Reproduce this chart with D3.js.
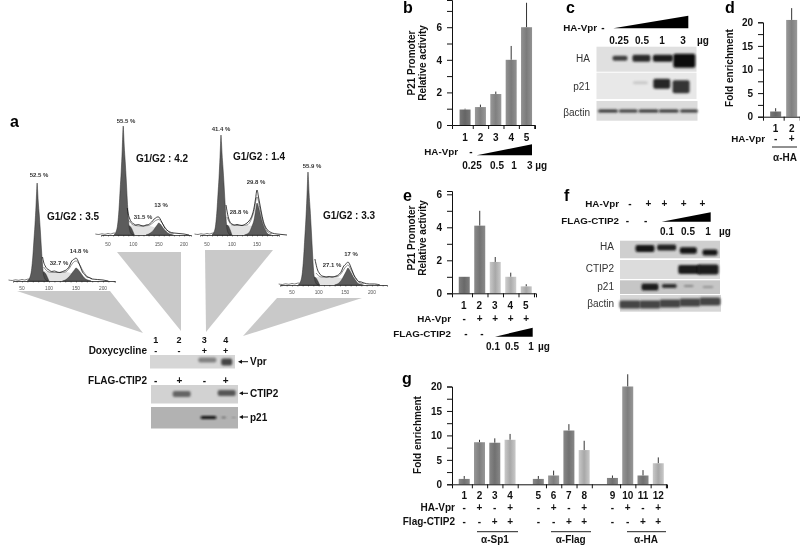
<!DOCTYPE html>
<html><head><meta charset="utf-8">
<script src="https://cdn.jsdelivr.net/npm/d3@7"></script>
<style>
html,body{margin:0;padding:0;background:#fff}
svg{display:block;font-family:"Liberation Sans",Arial,sans-serif;filter:blur(0.4px)}
</style></head><body><svg id="c" width="800" height="545"></svg>
<script>
// ---------- DATA ----------
const barLabelsFive = ["1","2","3","4","5"];
const bValues = [0.95,1.1,1.9,4,6];
const bErrTop = [1,1.25,2.05,4.85,7.5];
const dValues = [1.1,20.5];
const dErrTop = [1.8,23];
const eValues = [1,4.1,1.9,1,0.42];
const eErrTop = [1,5,2.2,1.25,0.55];
const gValues = [1.1,8.6,8.5,9.1,1.1,1.8,11,7,1.3,20,1.8,4.3];
const gErrTop = [1.7,9.1,9.4,10.3,1.7,2.8,12.3,8.9,1.8,22.5,2.9,5.5];
const gHaVpr = ["-","+","-","+","-","+","-","+","-","+","-","+"];
const gFlag = ["-","-","+","+","-","-","+","+","-","-","+","+"];
const eHaVpr = ["-","+","+","+","+"];
const fHaVpr = ["-","+","+","+","+"];
const aDox = ["-","-","+","+"];
const aFlag = ["-","+","-","+"];
const aPanelPercents = [["52.5 %","32.7 %","14.8 %"],["55.5 %","31.5 %","13 %"],["41.4 %","28.8 %","29.8 %"],["55.9 %","27.1 %","17 %"]];
const aPanelRatios = ["G1/G2 : 3.5","G1/G2 : 4.2","G1/G2 : 1.4","G1/G2 : 3.3"];
const g1Channels = [60,66,70,72,74,76,77,78,79,80,82,84,86,88,90,94,98];
const g1P1 = [0,6,24,40,56,76,88,98,90,80,66,50,32,16,6,1,0];
const g1P2 = [0,7,28,46,63,85,99,109,100,89,73,55,35,18,7,1,0];
const g1P3 = [0,6,25,41,57,78,90,100,92,82,67,51,33,17,6,1,0];
const g1P4 = [0,7,29,47,65,88,102,113,104,92,76,57,37,18,7,1,0];
const tailChannels = [66,78,90,100];
const tailP1 = [0,4,9,0];
const tailP2 = [0,5,9,0];
const tailP3 = [0,5,10,0];
const tailP4 = [0,4,8,0];
const sChannels = [84,90,100,115,130,140,150,158,166,175];
const sP1 = [9,10,9,8.5,9,8,6,4,2,0];
const sP2 = [10,10,9.5,9,9,8,6,4,2,0];
const sP3 = [10,10,9.5,9.5,9.5,9,7,4,2,0];
const sP4 = [8,8,8,8,8,7,6,4,2,0];
const g2Channels = [125,130,135,140,144,147,150,153,156,160,164,168,172,178];
const g2P1 = [0,1,3,6,9,11,13,12,10,7,4,2,1,0];
const g2P2 = [0,1,2.5,5,8,10,12,11,9,6,4,2,1,0];
const g2P3 = [0,1,3,9,15,24,32,28,22,14,8,4,1,0];
const g2P4 = [0,1,3,7,11,14,17,15,12,8,5,2,1,0];
const outlineChannels = [88,90,93,96,100,105,110,115,120,125,130,134,138,141,144,147,150,153,156,159,162,166,170,175,180,190,200,210];
const outlineP1 = [24,19,15,12.5,11,9.5,10,9,8.5,9.5,10.5,12,15,19,21,22,23,21,17,13,9,6.5,4,3.5,2,1.5,1,0];
const outlineP2 = [27,21,16,13,11.5,10,10.5,9.5,9,10,10.5,12,14,16,17,18,18,16,13,10,7,5,3.5,2.5,2,1.5,1,0];
const outlineP3 = [30,24,17,13,11,10,10.5,10,9.5,10.5,12,14,17,21,27,36,45,38,30,22,15,9,5.5,3.5,2,1,0.5,0];
const outlineP4 = [26,21,15,12,9.5,8.5,8,8.5,8,8.5,9.5,11,14,18,20,21.5,23,21,17,13,9,6,3.5,3,2,1,1,0];
const modelChannels = [90,100,115,130,138,144,150,156,162,170,180];
const modelP1 = [14,9,8.5,9,13,18,20,17,11,5,2];
const modelP2 = [15,10,9,9.5,12,14.5,15.5,12.5,8,3,1];
const modelP3 = [18,10,9.5,10,15,24,38,26,13,4,1];
const modelP4 = [12,8,8,8.5,12,17,20,15,9,3,1];
const noiseChannels = [25,32,38,44,50,55,60,64];
const noiseCounts = [1,0.5,1.2,0.7,1.5,1,1.8,2];
// blot bands: [lane, signal, thickness, width, drift]
const blotAVpr = [[3.2,0.42,5,18,-1],[4.03,0.72,7,11,1]];
const blotACtip2 = [[2.1,0.55,6,18,0],[4.03,0.62,6,18,-1]];
const blotAP21 = [[3.25,1,3,16,0],[3.9,0.5,1.5,5,0],[4.33,0.35,1,4,0]];
const blotCHa = [[1,0.75,5,15,0],[2,0.85,7,18,0],[3,0.92,7,20,0],[4,1,14,22,2.5]];
const blotCP21 = [[1.95,0.14,3,15,-1],[2.95,0.88,10,17,0],[3.85,0.82,13,17,3]];
const blotCActin = [[1,0.82,3,20,0],[2,0.78,3,19,0],[3,0.82,3,20,0],[4,0.82,3,20,0],[5,0.8,3,18,0]];
const blotFHa = [[1,0.95,7,19,0],[2,0.9,6,19,-1],[3,0.95,6.5,17,2],[4,0.95,6,15,4]];
const blotFCtip2 = [[2.75,0.92,9,22,0],[4,0.92,10,21,0]];
const blotFP21 = [[1,0.9,7,17,0],[2,0.82,4,15,-1],[3,0.35,2,10,-1],[4,0.28,2,11,0]];
const blotFActin = [[1,0.72,8,21,1],[2,0.72,8,21,1],[3,0.72,8,21,0],[4,0.72,8,21,-1],[5,0.72,8,21,-2]];

// ---------- HELPERS ----------
const svg = d3.select("#c");
const defs = svg.append("defs");
defs.append("filter").attr("id","soft").attr("x","-30%").attr("y","-80%").attr("width","160%").attr("height","260%")
  .append("feGaussianBlur").attr("stdDeviation",1.1);
const gradIds = new Map();
function grad(col){
  if(gradIds.has(col)) return "url(#"+gradIds.get(col)+")";
  const id="g"+gradIds.size; gradIds.set(col,id);
  const c=d3.color(col), lg=defs.append("linearGradient").attr("id",id);
  lg.append("stop").attr("offset","0%").attr("stop-color",c.brighter(0.25));
  lg.append("stop").attr("offset","50%").attr("stop-color",c.darker(0.25));
  lg.append("stop").attr("offset","100%").attr("stop-color",c.brighter(0.25));
  return "url(#"+id+")";
}
function txt(x,y,s,o={}){
  return svg.append("text").attr("x",x).attr("y",y).text(s)
    .attr("text-anchor",o.a||"middle").attr("font-size",o.s||10)
    .attr("font-weight",o.w||"bold").attr("fill",o.c||"#111")
    .attr("dominant-baseline","central");
}
function rotTxt(x,y,s){ txt(0,0,s).attr("transform",`translate(${x},${y}) rotate(-90)`); }
function letter(x,y,s){ svg.append("text").attr("x",x).attr("y",y).text(s).attr("font-size",16).attr("font-weight","bold").attr("fill","#000"); }
function wedge(x0,x1,yb,yt){
  svg.append("path").attr("d",d3.line()([[x0,yb],[x1,yb],[x1,yt]])+"Z").attr("fill","#000");
}
function barChart(o){
  const g=svg.append("g");
  const y=d3.scaleLinear().domain(o.yDom).range(o.yRange);
  const x=d3.scaleLinear().domain(o.xDom).range(o.xRange);
  const slot=o.slot||((d,i)=>i);
  const data=o.values.map((v,i)=>({v,e:o.err[i],s:slot(v,i),c:o.colors[i]}));
  g.selectAll(".e").data(data).join("line").attr("x1",d=>x(d.s)).attr("x2",d=>x(d.s))
    .attr("y1",d=>y(d.v)).attr("y2",d=>y(d.e)).attr("stroke","#333").attr("stroke-width",1);
  g.selectAll(".b").data(data).join("rect").attr("x",d=>x(d.s)-5.5).attr("width",11)
    .attr("y",d=>y(d.v)).attr("height",d=>y(0)-y(d.v)).attr("fill",d=>grad(d.c));
  const ya=g.append("g").attr("transform",`translate(${o.xRange[0]},0)`)
    .call(d3.axisLeft(y).tickValues(o.allTicks).tickSize(5).tickFormat(d=>o.major.includes(d)?d:""));
  const xa=g.append("g").attr("transform",`translate(0,${y(0)})`)
    .call(d3.axisBottom(x).tickValues(data.map(d=>d.s+0.5)).tickSize(4).tickFormat(""));
  [ya,xa].forEach(a=>{a.selectAll("path").attr("stroke","#111").attr("stroke-width",1);
    a.selectAll("line").attr("stroke","#111");
    a.selectAll("text").attr("font-size",10).attr("font-weight","bold").attr("fill","#111").attr("font-family","inherit");});
  ya.selectAll(".tick text").attr("x",-10);
  return x;
}
function blot(x0,y0,w,h,bg,cy,lanes,bands){
  const g=svg.append("g");
  g.append("rect").attr("x",x0).attr("y",y0).attr("width",w).attr("height",h).attr("fill",bg);
  const lane=d3.scaleLinear().domain([1,lanes[2]]).range([lanes[0],lanes[1]]);
  const shade=d3.scaleLinear().domain([0,1]).range([bg,"#0c0c0c"]);
  g.selectAll("rect.b").data(bands).join("rect").attr("class","b")
    .attr("x",d=>lane(d[0])-d[3]/2).attr("width",d=>d[3])
    .attr("y",d=>cy+d[4]-d[2]/2).attr("height",d=>d[2]).attr("rx",2)
    .attr("fill",d=>shade(d[1])).attr("filter","url(#soft)");
}
function arrowLabel(x0,x1,y,s){
  svg.append("line").attr("x1",x0+3).attr("x2",x1).attr("y1",y).attr("y2",y).attr("stroke","#111").attr("stroke-width",1);
  svg.append("path").attr("d",d3.line()([[x0,y],[x0+4,y-2],[x0+4,y+2]])+"Z").attr("fill","#111");
  txt(x1+2,y,s,{a:"start",s:10});
}

// ---------- PANEL a : wedges ----------
[[[17,291],[110,291],[143,333]],[[117,252],[181,252],[181,331]],[[205,250],[273,250],[206,332]],[[277,298],[362,298],[243,336]]]
  .forEach(p=>svg.append("path").attr("d",d3.line()(p)+"Z").attr("fill","#c9c9c9"));

// ---------- PANEL a : histograms ----------
const hists=[
 {g1:g1P1,tail:tailP1,s:sP1,g2:g2P1,out:outlineP1,mod:modelP1,shift:0,shift2:0,x50:22,px:0.54,base:281,l:13,r:115,ticks:[50,100,150,200],
  pct:[[39,175],[59,263],[79,251]],ratio:[73,216],ty:288},
 {g1:g1P2,tail:tailP2,s:sP2,g2:g2P2,out:outlineP2,mod:modelP2,shift:2,shift2:0,x50:108,px:0.507,base:235,l:101,r:191,ticks:[50,100,150,200],
  pct:[[126,121],[143,217],[161,205]],ratio:[162,158],ty:244},
 {g1:g1P3,tail:tailP3,s:sP3,g2:g2P3,out:outlineP3,mod:modelP3,shift:0,shift2:0,x50:207,px:0.5,base:235,l:200,r:279,ticks:[50,100,150],
  pct:[[221,129],[239,212],[256,182]],ratio:[259,156],ty:244},
 {g1:g1P4,tail:tailP4,s:sP4,g2:g2P4,out:outlineP4,mod:modelP4,shift:2,shift2:5,x50:292,px:0.533,base:285,l:280,r:387,ticks:[50,100,150,200],
  pct:[[312,166],[332,265],[351,254]],ratio:[349,215],ty:292}
];
hists.forEach((h,pi)=>{
  const x=d3.scaleLinear().domain([50,200]).range([h.x50,h.x50+150*h.px]);
  const y=d3.scaleLinear().domain([0,120]).range([h.base,h.base-120]);
  const g=svg.append("g");
  const area=d3.area().x(d=>x(d[0])).y0(y(0)).y1(d=>y(d[1])).curve(d3.curveMonotoneX);
  const line=d3.line().x(d=>x(d[0])).y(d=>y(d[1])).curve(d3.curveMonotoneX);
  const zip=(a,b,s=0)=>a.map((c,i)=>[c+s,b[i]]);
  g.append("path").attr("d",area(zip(sChannels,h.s))).attr("fill","#e2e2e2");
  g.append("path").attr("d",area(zip(tailChannels,h.tail,h.shift))).attr("fill","#4c4c4c").attr("stroke","#222").attr("stroke-width",0.4);
  g.append("path").attr("d",area(zip(g1Channels,h.g1,h.shift))).attr("fill","#5c5c5c").attr("stroke","#2a2a2a").attr("stroke-width",0.5);
  g.append("path").attr("d",area(zip(g2Channels,h.g2,h.shift2))).attr("fill","#5c5c5c").attr("stroke","#222").attr("stroke-width",0.4);
  g.append("path").attr("d",line(zip(modelChannels,h.mod,h.shift2))).attr("fill","none").attr("stroke","#444").attr("stroke-width",0.6);
  g.append("path").attr("d",line(zip(outlineChannels,h.out,h.shift2))).attr("fill","none").attr("stroke","#111").attr("stroke-width",0.8);
  g.append("path").attr("d",line(zip(noiseChannels,noiseCounts))).attr("fill","none").attr("stroke","#222").attr("stroke-width",0.6);
  const domainX=d3.scaleLinear().domain([x.invert(h.l),x.invert(h.r)]).range([h.l,h.r]);
  const ax=g.append("g").attr("transform",`translate(0,${h.base})`)
    .call(d3.axisBottom(domainX).tickValues(d3.range(30,230,10).filter(v=>x(v)>=h.l&&x(v)<=h.r)).tickSize(1.5).tickFormat(""));
  ax.selectAll("path").attr("stroke","#222").attr("stroke-width",0.8);
  ax.selectAll("line").attr("stroke","#222").attr("stroke-width",0.5);
  h.ticks.forEach(t=>txt(x(t),h.ty,t,{s:4.8,w:"normal",c:"#555"}));
  aPanelPercents[pi].forEach((s,i)=>txt(h.pct[i][0],h.pct[i][1],s,{s:6,c:"#333"}));
  txt(h.ratio[0],h.ratio[1],aPanelRatios[pi],{s:10});
});
letter(10,127,"a");

// ---------- PANEL a : blots ----------
const aLaneX=[155.7,179,204.3,225.7];
["1","2","3","4"].forEach((s,i)=>txt(aLaneX[i],339.5,s,{s:9}));
txt(147,350.5,"Doxycycline",{a:"end",s:10});
aDox.forEach((s,i)=>txt(aLaneX[i],350.5,s,{s:9}));
txt(147,380,"FLAG-CTIP2",{a:"end",s:10});
aFlag.forEach((s,i)=>txt(aLaneX[i]+(i==1?0.5:0),380,s,{s:10}));
blot(150,355,85,13.5,"#d6d6d6",361,[156,226,4],blotAVpr);
blot(151,385,87,18.5,"#d2d2d2",394,[156,226,4],blotACtip2);
blot(151,407,87,21.5,"#b2b2b2",417.5,[156,226,4],blotAP21);
arrowLabel(238,248,361.7,"Vpr");
arrowLabel(239,248,393.3,"CTIP2");
arrowLabel(239,248,417,"p21");

// ---------- PANEL b ----------
letter(403,13,"b");
const xb=barChart({values:bValues,err:bErrTop,colors:["#6e6e6e","#8c8c8c","#8c8c8c","#868686","#868686"],
  yDom:[0,7.67],yRange:[125,0],xDom:[-0.85,4.55],xRange:[452,535],allTicks:[0,1,2,3,4,5,6,7],major:[0,2,4,6]});
rotTxt(411,63,"P21 Promoter");
rotTxt(422.5,63,"Relative activity");
barLabelsFive.forEach((s,i)=>txt(xb(i),137,s));
txt(458,151,"HA-Vpr",{a:"end",s:9.8});
txt(471,151,"-");
wedge(476.7,532,155.3,144.3);
txt(472,165,"0.25");txt(497,165,"0.5");txt(514,165,"1");txt(537,165,"3 µg");

// ---------- PANEL c ----------
letter(566,13,"c");
txt(597,27.7,"HA-Vpr",{a:"end",s:9.8});
txt(603,27.7,"-");
wedge(613.3,688.3,28.3,15.7);
txt(619,40,"0.25");txt(642,40,"0.5");txt(662,40,"1");txt(683,40,"3");txt(703,40,"µg");
blot(596.5,46.7,100,25,"#e0e0e0",58.3,[620,684.3,4],blotCHa);
blot(596.5,72.7,100,26.3,"#e8e8e8",83.7,[620,684.3,4],blotCP21);
blot(596.5,101,101,19.7,"#dcdcdc",111,[608,689,5],blotCActin);
txt(590,58,"HA",{a:"end",w:"normal",c:"#333"});
txt(590,86.7,"p21",{a:"end",w:"normal",c:"#333"});
txt(590,112.7,"βactin",{a:"end",w:"normal",c:"#333"});

// ---------- PANEL d ----------
letter(725,13,"d");
const xd=barChart({values:dValues,err:dErrTop,colors:["#6e6e6e","#8c8c8c"],
  yDom:[0,20],yRange:[116.7,22.3],xDom:[-0.79,1.52],xRange:[763,800],allTicks:[0,2.5,5,7.5,10,12.5,15,17.5,20],major:[0,5,10,15,20]});
rotTxt(729,68,"Fold enrichment");
txt(xd(0),128,"1");txt(xd(1),128,"2");
txt(765,138.5,"HA-Vpr",{a:"end",s:9.8});
txt(xd(0),138.5,"-");txt(xd(1),138.5,"+");
svg.append("line").attr("x1",772).attr("x2",797).attr("y1",147).attr("y2",147).attr("stroke","#222");
txt(785,157,"α-HA");

// ---------- PANEL e ----------
letter(403,201,"e");
const xe=barChart({values:eValues,err:eErrTop,colors:["#737373","#7e7e7e","#b8b8b8","#bcbcbc","#b4b4b4"],
  yDom:[0,6.2],yRange:[293.3,191],xDom:[-0.79,4.63],xRange:[452,536],allTicks:[0,1,2,3,4,5,6],major:[0,2,4,6]});
rotTxt(411,238,"P21 Promoter");
rotTxt(422.5,238,"Relative activity");
barLabelsFive.forEach((s,i)=>txt(xe(i)-0.5,305,s));
txt(451,318,"HA-Vpr",{a:"end",s:9.8});
eHaVpr.forEach((s,i)=>txt(xe(i),318,s));
txt(451,333.5,"FLAG-CTIP2",{a:"end",s:9.8});
txt(466,333.5,"-");txt(482,333.5,"-");
wedge(495,532.7,336.7,327.7);
txt(493,346,"0.1");txt(512,346,"0.5");txt(531,346,"1");txt(544,346,"µg");

// ---------- PANEL f ----------
letter(564,201,"f");
txt(619,203,"HA-Vpr",{a:"end",s:9.8});
const fSym=[630,648.3,664.3,683.7,702.3];
fHaVpr.forEach((s,i)=>txt(fSym[i],203,s));
txt(619,220,"FLAG-CTIP2",{a:"end",s:9.8});
txt(627.3,220,"-");txt(645.7,220,"-");
wedge(661.7,710.7,221.7,212.3);
txt(667,231,"0.1");txt(688,231,"0.5");txt(708,231,"1");txt(725,231,"µg");
blot(620,240.7,100,17.6,"#cfcfcf",248.5,[645,710,4],blotFHa);
blot(620,260,100,19,"#dcdcdc",269.5,[663,708,4],blotFCtip2);
blot(620,280.3,100,13.7,"#c6c6c6",287,[650,708,4],blotFP21);
blot(620,295,101,16.7,"#d6d6d6",303.5,[630,710,5],blotFActin);
txt(614,246.7,"HA",{a:"end",w:"normal",c:"#333"});
txt(614,268.3,"CTIP2",{a:"end",w:"normal",c:"#333"});
txt(614,286.7,"p21",{a:"end",w:"normal",c:"#333"});
txt(614,303.3,"βactin",{a:"end",w:"normal",c:"#333"});

// ---------- PANEL g ----------
letter(402,384,"g");
const gSlot=(d,i)=>i+Math.floor(i/4)*0.85;
const gCols=["#7c7c7c","#8a8a8a","#7c7c7c","#b8b8b8"];
const xg=barChart({values:gValues,err:gErrTop,colors:gValues.map((v,i)=>gCols[i%4]),slot:gSlot,
  yDom:[0,20],yRange:[484.3,386.5],xDom:[-0.8,13.27],xRange:[452,667],
  allTicks:[0,2.5,5,7.5,10,12.5,15,17.5,20],major:[0,5,10,15,20]});
rotTxt(417,435,"Fold enrichment");
gValues.forEach((v,i)=>{
  const cx=xg(gSlot(v,i));
  txt(cx,495.7,String(i+1));
  txt(cx,507.7,gHaVpr[i]);
  txt(cx,521,gFlag[i]);
});
txt(455,507.7,"HA-Vpr",{a:"end"});
txt(455,521,"Flag-CTIP2",{a:"end"});
[[477,518,495,"α-Sp1"],[551,591,570.7,"α-Flag"],[627,666,646,"α-HA"]].forEach(a=>{
  svg.append("line").attr("x1",a[0]).attr("x2",a[1]).attr("y1",531.7).attr("y2",531.7).attr("stroke","#222");
  txt(a[2],539,a[3]);
});
</script></body></html>
